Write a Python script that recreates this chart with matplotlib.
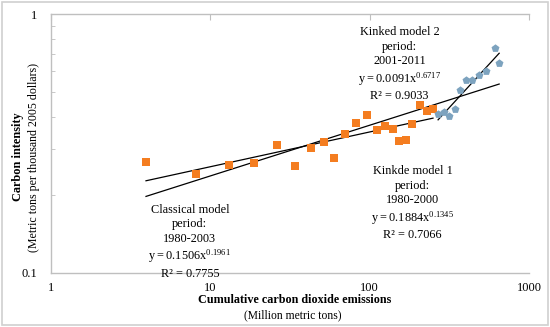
import numpy as np
import matplotlib
matplotlib.use("Agg")
import matplotlib.pyplot as plt
from matplotlib.patches import Rectangle

# Data
orange_x = [3.96, 8.16, 13.1, 18.9, 26.3, 34.1, 43.0, 51.8, 59.9, 70.2, 82.3, 96.4,
            111.4, 125.1, 140.4, 153.1, 169.4, 184.8, 207.5, 229.5, 250.2]
orange_y = [0.268, 0.241, 0.261, 0.266, 0.312, 0.259, 0.303, 0.320, 0.278, 0.344, 0.379, 0.407,
            0.356, 0.369, 0.359, 0.323, 0.326, 0.376, 0.445, 0.422, 0.429]
blue_x = [269, 293, 315, 344, 370, 403, 440, 487, 538, 612, 649]
blue_y = [0.411, 0.418, 0.403, 0.429, 0.508, 0.556, 0.556, 0.581, 0.602, 0.739, 0.647]

# Trend line models: (coef, exponent, x start, x end)
classical = (0.1506, 0.1961, 3.96, 650)
kinked1 = (0.1884, 0.1345, 3.96, 250)
kinked2 = (0.0091, 0.6717, 269, 650)

x_ticks = [1, 10, 100, 1000]
x_tick_labels = ["1", "10", "100", "1000"]
y_ticks = [0.1, 1]
y_tick_labels = ["0.1", "1"]

plt.rcParams['font.family'] = ['Liberation Serif', 'DejaVu Serif']

fig = plt.figure(figsize=(5.5, 3.27), dpi=100)
ax = fig.add_axes([0.0922, 0.166, 0.8696, 0.791])

fig.patches.append(Rectangle((0.004, 0.006), 0.992, 0.988, transform=fig.transFigure,
                             fill=False, edgecolor='#d0d0d0', linewidth=1.2))

ax.set_xscale('log')
ax.set_yscale('log')
ax.set_xlim(1, 1000)
ax.set_ylim(0.1, 1)

for (a, b, x0, x1) in (classical, kinked1, kinked2):
    xs = np.logspace(np.log10(x0), np.log10(x1), 50)
    ax.plot(xs, a * xs ** b, color='black', lw=0.9, zorder=2)

ax.scatter(orange_x, orange_y, marker='s', s=28, color='#f47d20', zorder=3, linewidths=0)
ax.scatter(blue_x, blue_y, marker='p', s=36, color='#7da3bf', zorder=3, linewidths=0)

gray = '#bfbfbf'
for s in ['left', 'bottom', 'top']:
    ax.spines[s].set_color(gray)
    ax.spines[s].set_linewidth(1.0)
ax.spines['right'].set_visible(False)

ax.set_xticks(x_ticks)
ax.set_xticklabels(x_tick_labels)
ax.set_yticks(y_ticks)
ax.set_yticklabels(y_tick_labels)
ax.xaxis.set_minor_locator(matplotlib.ticker.NullLocator())
ax.yaxis.set_minor_locator(matplotlib.ticker.LogLocator(base=10, subs=np.arange(2, 10)))
ax.yaxis.set_minor_formatter(matplotlib.ticker.NullFormatter())
ax.tick_params(axis='x', which='major', bottom=False, top=True, direction='in', length=4,
               color=gray, labelsize=9, pad=7)
ax.tick_params(axis='y', which='both', left=True, direction='in', length=3, color=gray,
               labelsize=9, pad=10)
ax.tick_params(axis='y', which='major', length=0)

fs = 8.8
ls = 1.25
ax.text(0.729, 0.952, "Kinked model 2\nperiod:\n2001-2011\n$\\mathregular{y = 0.0091x^{0.6717}}$\nR² = 0.9033",
        transform=ax.transAxes, ha='center', va='top', fontsize=fs, linespacing=ls)
ax.text(0.757, 0.415, "Kinkde model 1\nperiod:\n1980-2000\n$\\mathregular{y = 0.1884x^{0.1345}}$\nR² = 0.7066",
        transform=ax.transAxes, ha='center', va='top', fontsize=fs, linespacing=ls)
ax.text(0.291, 0.265, "Classical model\nperiod:\n1980-2003\n$\\mathregular{y = 0.1506x^{0.1961}}$\nR² = 0.7755",
        transform=ax.transAxes, ha='center', va='top', fontsize=fs, linespacing=ls)

fig.text(0.033, 0.52, "Carbon intensity", rotation=90, ha='center', va='center',
         fontsize=8.8, fontweight='bold')
fig.text(0.061, 0.52, "(Metric tons per thousand 2005 dollars)", rotation=90, ha='center',
         va='center', fontsize=8.6)
fig.text(0.536, 0.083, "Cumulative carbon dioxide emissions", ha='center', va='center',
         fontsize=8.7, fontweight='bold')
fig.text(0.532, 0.037, "(Million metric tons)", ha='center', va='center', fontsize=8.4)

fig.savefig("out.png", dpi=100)
